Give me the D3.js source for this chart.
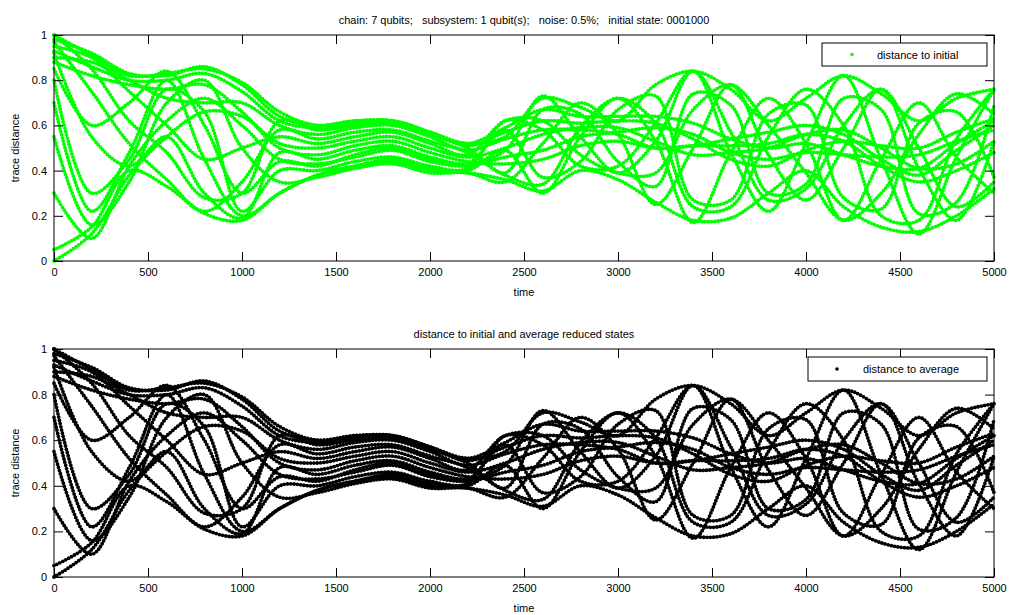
<!DOCTYPE html>
<html>
<head>
<meta charset="utf-8">
<script src="https://cdn.jsdelivr.net/npm/d3@7"></script>
<style>
body{margin:0;background:#fff;}
text{font-family:"Liberation Sans",Arial,sans-serif;font-size:11px;fill:#000;}
</style>
</head>
<body>
<script>
// sample times (shared by every curve)
const times = [0,200,400,600,800,1000,1200,1400,1600,1800,2000,2200,2400,2600,2800,3000,3200,3400,3600,3800,4000,4200,4400,4600,4800,5000];

// trace distance curves (the dotted families)
const curve1  = [0.00,0.12,0.38,0.55,0.66,0.64,0.52, 0.50,0.53,0.55,0.50,0.46, .50,.56,.59,.59,.53,.47,.48,.50,.56,.58,.50,.41,.43,.53];
const curve2  = [0.30,0.10,0.42,0.62,0.72,0.60,0.45, 0.43,0.46,0.49,0.44,0.42, .46,.49,.55,.57,.59,.56,.48,.45,.48,.47,.46,.47,.53,.58];
const curve3  = [0.55,0.16,0.35,0.70,0.80,0.50,0.35, 0.37,0.41,0.43,0.39,0.39, .35,.52,.70,.56,.25,.50,.78,.47,.27,.50,.76,.41,.18,.53];
const curve4  = [0.80,0.30,0.45,0.76,0.66,0.22,0.40, 0.40,0.44,0.46,0.42,0.41, .62,.58,.42,.42,.61,.84,.57,.27,.32,.60,.76,.50,.24,.35];
const curve5  = [0.92,0.55,0.42,0.55,0.30,0.19,0.48, 0.45,0.49,0.51,0.46,0.43, .49,.73,.55,.39,.53,.84,.48,.22,.52,.82,.45,.12,.46,.76];
const curve6  = [0.97,0.75,0.52,0.36,0.22,0.35,0.58, 0.54,0.57,0.58,0.53,0.48, .38,.34,.59,.72,.61,.24,.24,.55,.76,.60,.20,.18,.54,.76];
const curve7  = [1.00,0.85,0.62,0.48,0.28,0.30,0.62, 0.58,0.60,0.61,0.56,0.50, .39,.67,.65,.44,.33,.74,.69,.30,.34,.72,.67,.21,.26,.69];
const curve8  = [0.95,0.90,0.75,0.60,0.45,0.50,0.55, 0.52,0.55,0.57,0.52,0.47, .62,.62,.47,.39,.39,.67,.78,.60,.39,.18,.30,.56,.74,.65];
const curve9  = [0.90,0.88,0.80,0.72,0.70,0.70,0.60, 0.56,0.59,0.60,0.55,0.49, .54,.58,.58,.56,.50,.51,.54,.57,.60,.56,.45,.38,.49,.60];
const curve10 = [0.93,0.86,0.80,0.80,0.83,0.75,0.62, 0.59,0.61,0.62,0.57,0.51, .57,.62,.61,.62,.61,.54,.45,.42,.49,.53,.51,.50,.57,.63];
const curve11 = [0.98,0.92,0.83,0.82,0.86,0.78,0.64, 0.60,0.62,0.62,0.57,0.52, .59,.67,.64,.64,.64,.61,.54,.50,.52,.47,.42,.41,.52,.62];
const curve12 = [0.88,0.82,0.78,0.76,0.78,0.66,0.50, 0.47,0.51,0.53,0.48,0.44, .43,.45,.51,.53,.50,.51,.51,.52,.56,.53,.42,.35,.40,.48];
const curve13 = [0.70,0.22,0.48,0.80,0.45,0.20,0.30, 0.38,0.42,0.45,0.41,0.40, .49,.30,.55,.72,.53,.17,.48,.72,.52,.18,.45,.70,.46,.30];
const curve14 = [0.85,0.60,0.70,0.84,0.60,0.30,0.44, 0.42,0.47,0.50,0.45,0.43, .58,.37,.44,.67,.73,.27,.27,.65,.69,.28,.23,.61,.66,.37];
const curve15 = [1.00,0.91,0.82,0.83,0.85,0.79,0.66, 0.60,0.62,0.62,0.57,0.52, .55,.72,.68,.62,.78,.84,.76,.62,.72,.82,.74,.62,.72,.76];
const curve16 = [0.05,0.15,0.40,0.33,0.21,0.18,0.30, 0.38,0.42,0.44,0.40,0.39, .36,.31,.40,.36,.26,.18,.19,.30,.40,.24,.15,.13,.20,.32];
const curves = [curve1,curve2,curve3,curve4,curve5,curve6,curve7,curve8,curve9,curve10,curve11,curve12,curve13,curve14,curve15,curve16];

const xTicks = [0,500,1000,1500,2000,2500,3000,3500,4000,4500,5000];
const yTicks = [0,0.2,0.4,0.6,0.8,1];

const svg = d3.select("body").append("svg")
    .attr("width",1010)
    .attr("height",615);

const panels = [
  {top:35, bottom:261, color:"#00ff00", id:"p1",
   title:"chain: 7 qubits;   subsystem: 1 qubit(s);   noise: 0.5%;   initial state: 0001000",
   legend:"distance to initial", lx:822, ly:43, lw:165, lh:23, mx:852, tx:877},
  {top:349, bottom:577, color:"#000000", id:"p2",
   title:"distance to initial and average reduced states",
   legend:"distance to average", lx:808, ly:357, lw:179, lh:24, mx:837, tx:863}
];

const left = 54, right = 994;

panels.forEach(p => drawPanel(p));

function drawPanel(p){
    const x = d3.scaleLinear().domain([0,5000]).range([left,right]);
    const y = d3.scaleLinear().domain([0,1]).range([p.bottom,p.top]);
    const g = svg.append("g");

    g.append("clipPath").attr("id","clip-"+p.id)
      .append("rect")
        .attr("x",left-2).attr("y",p.top-2)
        .attr("width",right-left+4).attr("height",p.bottom-p.top+4);

    const line = d3.line()
        .x((d,i) => x(times[i]))
        .y(d => y(d))
        .curve(d3.curveCatmullRom.alpha(0.5));

    const plot = g.append("g").attr("clip-path",`url(#clip-${p.id})`);
    curves.forEach(c => {
        plot.append("path")
            .attr("d",line(c))
            .attr("fill","none")
            .attr("stroke",p.color)
            .attr("stroke-width",3.8)
            .attr("stroke-linecap","round")
            .attr("stroke-dasharray","0,3.3");
    });

    // box + inward ticks on all sides (matlab style)
    g.append("rect")
        .attr("x",left).attr("y",p.top)
        .attr("width",right-left).attr("height",p.bottom-p.top)
        .attr("fill","none").attr("stroke","#000");

    g.append("g").attr("transform",`translate(0,${p.bottom})`)
        .call(d3.axisBottom(x).tickValues(xTicks).tickSizeInner(-9).tickSizeOuter(0).tickPadding(7).tickFormat(d => d));
    g.append("g").attr("transform",`translate(0,${p.top})`)
        .call(d3.axisTop(x).tickValues(xTicks).tickSizeInner(-9).tickSizeOuter(0).tickFormat(""));
    g.append("g").attr("transform",`translate(${left},0)`)
        .call(d3.axisLeft(y).tickValues(yTicks).tickSizeInner(-9).tickSizeOuter(0).tickPadding(7).tickFormat(d => d));
    g.append("g").attr("transform",`translate(${right},0)`)
        .call(d3.axisRight(y).tickValues(yTicks).tickSizeInner(-9).tickSizeOuter(0).tickFormat(""));
    g.selectAll(".domain").remove();
    g.selectAll(".tick text").attr("font-size",null).attr("font-family",null);

    g.append("text")
        .attr("x",(left+right)/2).attr("y",p.top-11)
        .attr("text-anchor","middle")
        .attr("xml:space","preserve")
        .style("white-space","pre")
        .text(p.title);

    g.append("text")
        .attr("x",(left+right)/2).attr("y",p.bottom+35)
        .attr("text-anchor","middle")
        .text("time");

    g.append("text")
        .attr("transform",`translate(19,${(p.top+p.bottom)/2}) rotate(-90)`)
        .attr("text-anchor","middle")
        .text("trace distance");

    // legend
    g.append("rect")
        .attr("x",p.lx).attr("y",p.ly).attr("width",p.lw).attr("height",p.lh)
        .attr("fill","#fff").attr("stroke","#000");
    g.append("circle")
        .attr("cx",p.mx).attr("cy",p.ly+p.lh/2)
        .attr("r",1.8).attr("fill",p.color);
    g.append("text")
        .attr("x",p.tx).attr("y",p.ly+p.lh/2+4)
        .text(p.legend);
}
</script>
</body>
</html>
